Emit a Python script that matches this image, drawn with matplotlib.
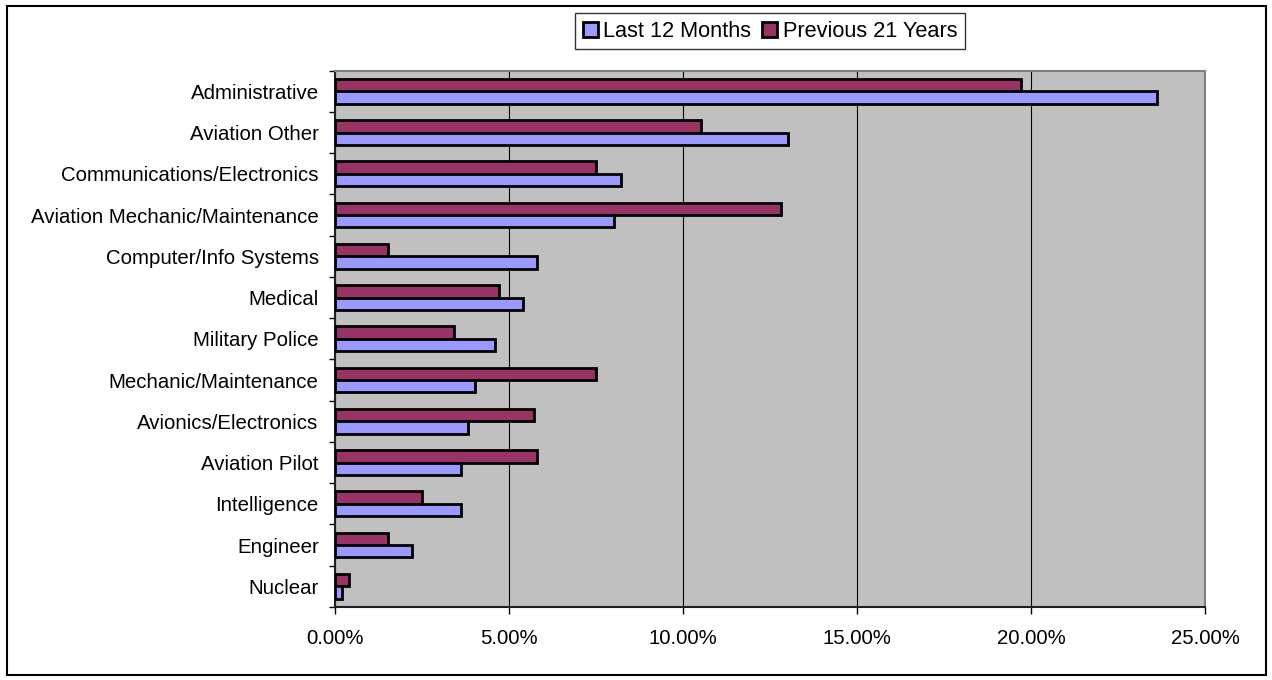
import matplotlib
matplotlib.use("Agg")
import matplotlib.pyplot as plt
from matplotlib.patches import Rectangle
from matplotlib.ticker import FuncFormatter, FixedLocator
import numpy as np

plt.rcParams['font.family'] = ['Liberation Sans', 'DejaVu Sans']

categories = [
    "Administrative", "Aviation Other", "Communications/Electronics",
    "Aviation Mechanic/Maintenance", "Computer/Info Systems", "Medical",
    "Military Police", "Mechanic/Maintenance", "Avionics/Electronics",
    "Aviation Pilot", "Intelligence", "Engineer", "Nuclear",
]
last_12_months = [23.6, 13.0, 8.2, 8.0, 5.8, 5.4, 4.6, 4.0, 3.8, 3.6, 3.6, 2.2, 0.2]
previous_21_years = [19.7, 10.5, 7.5, 12.8, 1.5, 4.7, 3.4, 7.5, 5.7, 5.8, 2.5, 1.5, 0.4]
x_ticks = [0, 5, 10, 15, 20, 25]

fig = plt.figure(figsize=(12.72, 6.8), dpi=100)
ax = fig.add_axes([0.2636, 0.1074, 0.6841, 0.7886])

y = np.arange(len(categories))
h = 0.30
ax.barh(y - h / 2, previous_21_years, height=h, color='#993366',
        edgecolor='black', linewidth=2, label='Previous 21 Years', zorder=3)
ax.barh(y + h / 2, last_12_months, height=h, color='#9999FF',
        edgecolor='black', linewidth=2, label='Last 12 Months', zorder=3)

ax.set_xlim(0, 25)
ax.set_ylim(len(categories) - 0.5, -0.5)
ax.set_facecolor('#C0C0C0')

ax.set_xticks(x_ticks)
ax.xaxis.set_major_formatter(FuncFormatter(lambda v, p: '%.2f%%' % v))
ax.grid(axis='x', color='black', linewidth=0.8, zorder=1)

ax.set_yticks(y)
ax.set_yticklabels(categories)
ax.yaxis.set_minor_locator(FixedLocator(np.arange(-0.5, len(categories), 1)))
ax.tick_params(axis='y', which='major', length=0, pad=12, labelsize=14.7)
ax.tick_params(axis='y', which='minor', length=4, width=1, direction='out')
ax.tick_params(axis='x', which='major', length=5, width=1, direction='out',
               pad=11, labelsize=14.7)

for side in ['top', 'right']:
    ax.spines[side].set_color('#808080')
    ax.spines[side].set_linewidth(1.5)
for side in ['left', 'bottom']:
    ax.spines[side].set_color('#202020')
    ax.spines[side].set_linewidth(1.5)

handles, labels = ax.get_legend_handles_labels()
leg = fig.legend(handles[::-1], labels[::-1], loc='center',
                 bbox_to_anchor=(0.6053, 0.954), ncol=2, fontsize=15.7,
                 frameon=True, fancybox=False, edgecolor='black',
                 handlelength=0.7, handleheight=0.7, handletextpad=0.25,
                 columnspacing=0.5, borderpad=0.35, borderaxespad=0)
leg.get_frame().set_linewidth(1.0)

fig.patches.append(Rectangle((7 / 1272, 5 / 680), 1259 / 1272, 669 / 680,
                             transform=fig.transFigure, fill=False,
                             edgecolor='black', linewidth=1.5))

fig.savefig('out.png', dpi=100)
